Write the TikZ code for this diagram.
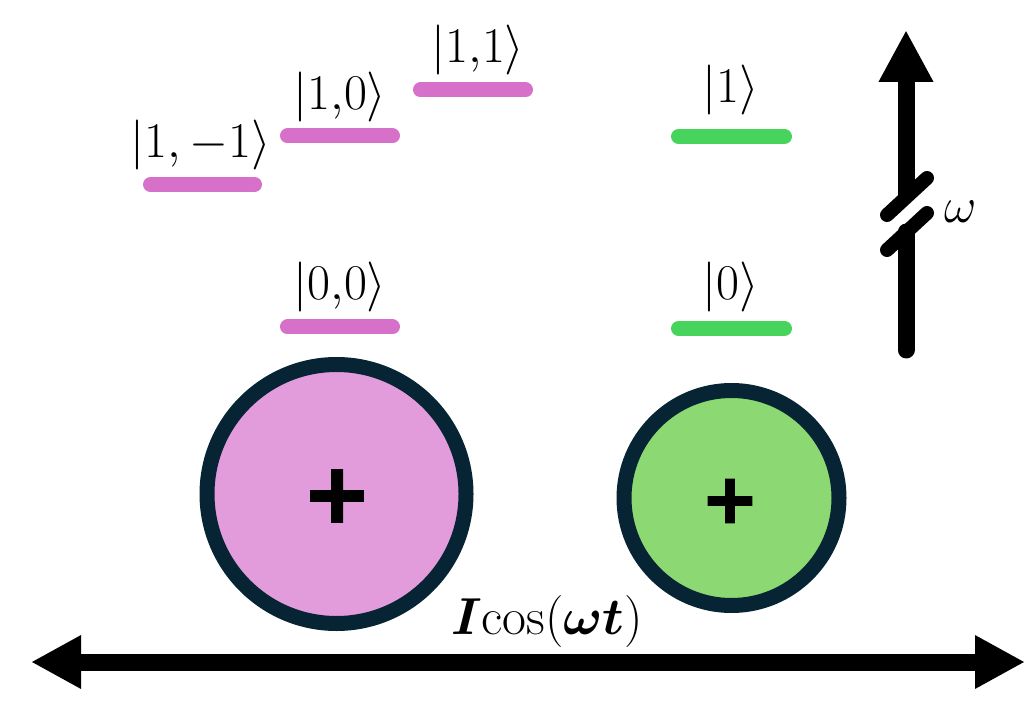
\RequirePackage{fix-cm}
\documentclass[tikz,border=0pt]{standalone}
\usepackage{amsmath}
\usepackage{fontspec}
\newfontfamily\plusfont{DejaVu Sans Bold}[FakeBold=3]
\usetikzlibrary{arrows.meta}
\definecolor{levpink}{RGB}{214,112,200}
\definecolor{fillpink}{RGB}{227,156,219}
\definecolor{levgreen}{RGB}{70,212,93}
\definecolor{fillgreen}{RGB}{140,216,114}
\definecolor{ringnavy}{RGB}{6,36,51}
\begin{document}
\begin{tikzpicture}[x=0.5pt,y=-0.5pt,
  ket/.style={font=\fontsize{25}{30}\selectfont, inner sep=0pt},
  level/.style={line width=7.5pt, line cap=round},
  ion/.style={circle, draw=ringnavy, line width=7.5pt, inner sep=0pt},
  plussign/.style={inner sep=0pt},
  axis/.style={line width=8.5pt},
  slash/.style={line width=7pt, line cap=round}]
\useasboundingbox (0,0) rectangle (1032,715);

% energy levels
\draw[level, levpink] (150.5,184.5) -- (254.5,184.5);
\draw[level, levpink] (287.5,136) -- (392.5,136);
\draw[level, levpink] (420.5,90) -- (525.5,90);
\draw[level, levpink] (287.5,327) -- (392.5,327);
\draw[level, levgreen] (678.5,136.5) -- (784.5,136.5);
\draw[level, levgreen] (678.5,328.5) -- (784.5,328.5);

% ket labels
\node[ket] (k1m1) at (201,145) {$|1,-1\rangle$};
\node[ket] (k10) at (340,97) {$|1{,}0\rangle$};
\node[ket] (k11) at (478,50) {$|1{,}1\rangle$};
\node[ket] (k00) at (340,287) {$|0{,}0\rangle$};
\node[ket] (k1) at (731,90) {$|1\rangle$};
\node[ket] (k0) at (731,287) {$|0\rangle$};

% ions
\node[ion, fill=fillpink, minimum size=129.5pt] (ionA) at (336.5,494) {};
\node[plussign, font=\plusfont\fontsize{41}{41}\selectfont] (plusA) at (337,496) {+};
\node[ion, fill=fillgreen, minimum size=107.5pt] (ionB) at (731.5,498) {};
\node[plussign, font=\plusfont\fontsize{34}{34}\selectfont] (plusB) at (730,501) {+};

% frequency axis with break
\coordinate (wbot) at (906,350);
\coordinate (wlow) at (906,232);
\coordinate (wup) at (906,197);
\coordinate (wtop) at (906,30);
\draw[axis, line cap=round] (wbot) -- (wlow);
\draw[axis, -{Triangle[width=25.5pt,length=26pt]}] (wup) -- (wtop);
\draw[slash] (wlow) ++(-19,18) -- ++(40,-37);
\draw[slash] (wup) ++(-19,18) -- ++(40,-37);
\node[ket] (wlab) at (961,212) {$\omega$};

% drive
\coordinate (hl) at (31,662);
\coordinate (hr) at (1025,662);
\draw[axis, {Triangle[width=25pt,length=25pt]}-{Triangle[width=25pt,length=25pt]}] (hl) -- (hr);
\node[ket, font=\fontsize{26}{31}\selectfont] (drive) at (547,621) {$\boldsymbol{I}\!\cos(\boldsymbol{\omega t})$};
\end{tikzpicture}
\end{document}
